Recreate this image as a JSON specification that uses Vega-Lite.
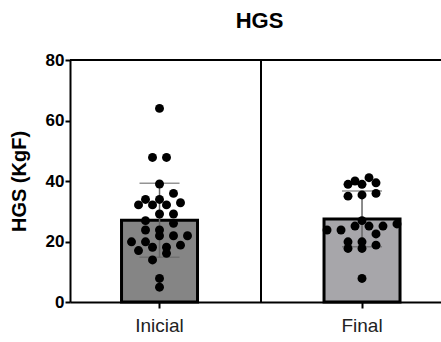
{
  "$schema": "https://vega.github.io/schema/vega-lite/v6.json",
  "width": 371,
  "height": 242,
  "autosize": {"type": "none"},
  "padding": {"left": 70, "top": 60, "right": 0, "bottom": 40},
  "background": "white",
  "config": {
    "font": "Liberation Sans",
    "view": {"stroke": null}
  },
  "title": {
    "text": "HGS",
    "fontSize": 22,
    "fontWeight": "bold",
    "color": "black",
    "offset": 18,
    "dx": 4
  },
  "data": {
    "values": [
      {"grupo": "Inicial", "HGS": 64.0},
      {"grupo": "Inicial", "HGS": 47.8},
      {"grupo": "Inicial", "HGS": 47.8},
      {"grupo": "Inicial", "HGS": 39.0},
      {"grupo": "Inicial", "HGS": 35.9},
      {"grupo": "Inicial", "HGS": 33.9},
      {"grupo": "Inicial", "HGS": 33.9},
      {"grupo": "Inicial", "HGS": 32.8},
      {"grupo": "Inicial", "HGS": 32.1},
      {"grupo": "Inicial", "HGS": 32.1},
      {"grupo": "Inicial", "HGS": 32.1},
      {"grupo": "Inicial", "HGS": 29.1},
      {"grupo": "Inicial", "HGS": 29.1},
      {"grupo": "Inicial", "HGS": 26.9},
      {"grupo": "Inicial", "HGS": 26.0},
      {"grupo": "Inicial", "HGS": 23.8},
      {"grupo": "Inicial", "HGS": 23.8},
      {"grupo": "Inicial", "HGS": 21.9},
      {"grupo": "Inicial", "HGS": 21.9},
      {"grupo": "Inicial", "HGS": 21.9},
      {"grupo": "Inicial", "HGS": 19.9},
      {"grupo": "Inicial", "HGS": 19.9},
      {"grupo": "Inicial", "HGS": 18.8},
      {"grupo": "Inicial", "HGS": 18.1},
      {"grupo": "Inicial", "HGS": 18.1},
      {"grupo": "Inicial", "HGS": 17.0},
      {"grupo": "Inicial", "HGS": 16.1},
      {"grupo": "Inicial", "HGS": 13.9},
      {"grupo": "Inicial", "HGS": 7.8},
      {"grupo": "Inicial", "HGS": 4.9},
      {"grupo": "Final", "HGS": 41.1},
      {"grupo": "Final", "HGS": 40.0},
      {"grupo": "Final", "HGS": 39.4},
      {"grupo": "Final", "HGS": 38.9},
      {"grupo": "Final", "HGS": 38.9},
      {"grupo": "Final", "HGS": 35.9},
      {"grupo": "Final", "HGS": 35.4},
      {"grupo": "Final", "HGS": 35.0},
      {"grupo": "Final", "HGS": 26.9},
      {"grupo": "Final", "HGS": 25.8},
      {"grupo": "Final", "HGS": 25.1},
      {"grupo": "Final", "HGS": 25.1},
      {"grupo": "Final", "HGS": 25.1},
      {"grupo": "Final", "HGS": 23.8},
      {"grupo": "Final", "HGS": 23.8},
      {"grupo": "Final", "HGS": 22.5},
      {"grupo": "Final", "HGS": 19.9},
      {"grupo": "Final", "HGS": 19.9},
      {"grupo": "Final", "HGS": 18.8},
      {"grupo": "Final", "HGS": 17.7},
      {"grupo": "Final", "HGS": 17.7},
      {"grupo": "Final", "HGS": 7.8}
    ]
  },
  "resolve": {"scale": {"x": "independent"}, "axis": {"x": "independent"}},
  "layer": [
    {
      "layer": [
        {
          "mark": {"type": "bar", "stroke": "black", "strokeWidth": 3},
          "encoding": {
            "x": {
              "field": "grupo",
              "type": "nominal",
              "sort": ["Inicial", "Final"],
              "scale": {"domain": ["Inicial", "Final"], "paddingInner": 0.6247, "paddingOuter": 0.2284, "align": 0.557},
              "axis": {
                "title": null,
                "labelAngle": 0,
                "labelFontSize": 19,
                "labelColor": "#222",
                "labelPadding": 8,
                "domainColor": "black",
                "domainWidth": 2,
                "tickColor": "black",
                "tickWidth": 2,
                "tickSize": 6
              }
            },
            "y": {
              "field": "HGS",
              "aggregate": "mean",
              "type": "quantitative",
              "scale": {"domain": [0, 80]},
              "axis": {
                "values": [0, 20, 40, 60, 80],
                "title": "HGS (KgF)",
                "titleFontSize": 20,
                "titleFontWeight": "bold",
                "titleColor": "black",
                "titlePadding": 16,
                "labelFontSize": 17,
                "labelFontWeight": "bold",
                "labelColor": "black",
                "labelPadding": 1,
                "grid": false,
                "domainColor": "black",
                "domainWidth": 2,
                "tickColor": "black",
                "tickWidth": 2,
                "tickSize": 5
              }
            },
            "color": {
              "field": "grupo",
              "type": "nominal",
              "scale": {"domain": ["Inicial", "Final"], "range": ["#858585", "#a7a6aa"]},
              "legend": null
            }
          }
        },
        {
          "mark": {"type": "errorbar", "extent": "stdev", "color": "#666666", "thickness": 1.5, "ticks": {"size": 40, "color": "#666666", "thickness": 1.5}},
          "encoding": {
            "x": {"field": "grupo", "type": "nominal"},
            "y": {"field": "HGS", "type": "quantitative", "title": "HGS (KgF)"}
          }
        },
        {
          "data": {"values": [{"grupo": "Inicial"}]},
          "mark": {"type": "rule", "color": "black", "strokeWidth": 2},
          "encoding": {
            "x": {"field": "grupo", "type": "nominal", "bandPosition": 1.8355}
          }
        }
      ]
    },
    {
      "transform": [
        {"calculate": "floor(datum.HGS / 3.3)", "as": "ybin"},
        {
          "window": [{"op": "row_number", "as": "r"}, {"op": "count", "as": "n"}],
          "groupby": ["grupo", "ybin"],
          "sort": [{"field": "HGS", "order": "ascending"}],
          "frame": [null, null]
        },
        {"calculate": "(datum.grupo === 'Inicial' ? 0 : 1) + (datum.r - 1 - (datum.n - 1) / 2) * 0.0691", "as": "xpos"}
      ],
      "mark": {"type": "circle", "color": "black", "opacity": 1, "size": 80},
      "encoding": {
        "x": {"field": "xpos", "type": "quantitative", "scale": {"domain": [-0.442, 1.3901], "nice": false, "zero": false}, "axis": null},
        "y": {"field": "HGS", "type": "quantitative"}
      }
    },
    {
      "data": {"values": [{"top": 80}]},
      "mark": {"type": "rule", "color": "black", "strokeWidth": 2},
      "encoding": {
        "y": {"field": "top", "type": "quantitative"}
      }
    }
  ]
}
